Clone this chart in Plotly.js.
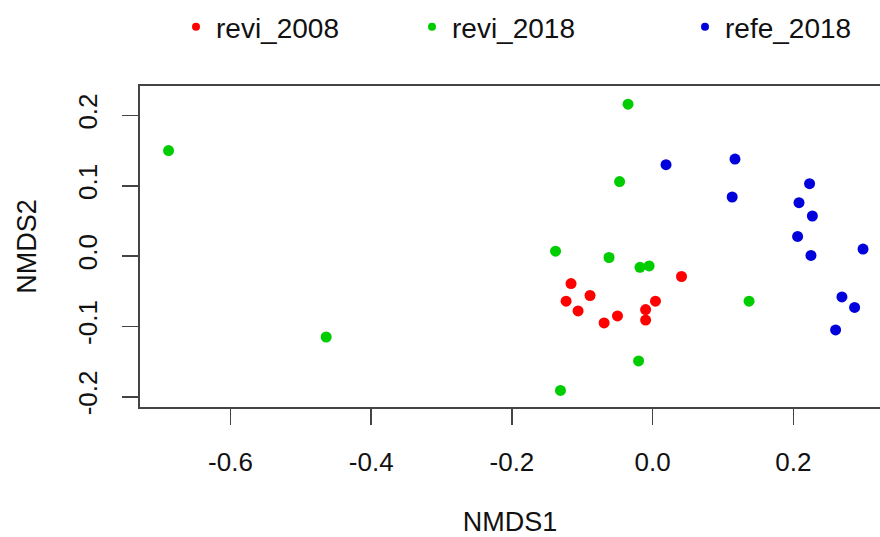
<!DOCTYPE html>
<html>
<head>
<meta charset="utf-8">
<script src="https://cdn.plot.ly/plotly-3.0.1.min.js"></script>
<style>html,body{margin:0;padding:0;background:#fff}#chart{width:880px;height:537px}</style>
</head>
<body>
<div id="chart"></div>
<script>
// NMDS scores
const revi2008_x = [-0.116, -0.089, -0.123, -0.106, -0.069, -0.050, -0.010, -0.010, 0.004, 0.041];
const revi2008_y = [-0.039, -0.056, -0.064, -0.078, -0.095, -0.085, -0.076, -0.091, -0.064, -0.029];

const revi2018_x = [-0.688, -0.464, -0.035, -0.047, -0.138, -0.062, -0.018, -0.005, 0.137, -0.020, -0.131];
const revi2018_y = [0.150, -0.115, 0.216, 0.106, 0.007, -0.002, -0.016, -0.014, -0.064, -0.149, -0.191];

const refe2018_x = [0.019, 0.117, 0.113, 0.223, 0.208, 0.227, 0.206, 0.225, 0.299, 0.269, 0.287, 0.260];
const refe2018_y = [0.130, 0.138, 0.084, 0.103, 0.076, 0.057, 0.028, 0.001, 0.010, -0.058, -0.073, -0.105];

const seriesNames = ["revi_2008", "revi_2018", "refe_2018"];
const seriesColors = ["#ff0000", "#00cd00", "#0000dd"];
const xTicks = [-0.6, -0.4, -0.2, 0.0, 0.2];
const xTickText = ["-0.6", "-0.4", "-0.2", "0.0", "0.2"];
const yTicks = [-0.2, -0.1, 0.0, 0.1, 0.2];
const yTickText = ["-0.2", "-0.1", "0.0", "0.1", "0.2"];

const xs = [revi2008_x, revi2018_x, refe2018_x];
const ys = [revi2008_y, revi2018_y, refe2018_y];
const legendIds = ["legend", "legend2", "legend3"];

const traces = [];
for (let i = 0; i < 3; i++) {
  traces.push({
    type: "scatter", mode: "markers", x: xs[i], y: ys[i], name: seriesNames[i],
    marker: {color: seriesColors[i], size: 11}, showlegend: false, hoverinfo: "x+y+name"
  });
}
for (let i = 0; i < 3; i++) {
  traces.push({
    type: "scatter", mode: "markers", x: [null], y: [null], name: seriesNames[i],
    marker: {color: seriesColors[i], size: 8}, showlegend: true, legend: legendIds[i]
  });
}

const fontFam = "Liberation Sans, Arial, sans-serif";
const legendX = [176, 412, 685];
const lg = (px) => ({
  orientation: "h", xref: "container", yref: "container",
  x: px / 880, xanchor: "left", y: 1 - 2 / 537, yanchor: "top",
  font: {family: fontFam, size: 28, color: "#111"}, bgcolor: "rgba(0,0,0,0)", borderwidth: 0
});

const layout = {
  width: 880, height: 537,
  margin: {l: 140, r: 0, t: 86, b: 130, pad: 0},
  paper_bgcolor: "#fff", plot_bgcolor: "#fff",
  font: {family: fontFam, color: "#111"},
  xaxis: {
    range: [-0.7286, 0.3231], tickvals: xTicks, ticktext: xTickText,
    showgrid: false, zeroline: false, showline: true, linecolor: "#444", linewidth: 2,
    mirror: true, ticks: "outside", ticklen: 16, tickwidth: 1.5, tickcolor: "#444",
    tickfont: {family: fontFam, size: 26, color: "#111"}, ticklabelstandoff: 15,
    title: {text: "NMDS1", font: {family: fontFam, size: 27, color: "#111"}, standoff: 40}
  },
  yaxis: {
    range: [-0.2145, 0.2418], tickvals: yTicks, ticktext: yTickText, tickangle: -90,
    showgrid: false, zeroline: false, showline: true, linecolor: "#444", linewidth: 2,
    mirror: false, ticks: "outside", ticklen: 16, tickwidth: 1.5, tickcolor: "#444",
    tickfont: {family: fontFam, size: 26, color: "#111"}, ticklabelstandoff: 15,
    title: {text: "NMDS2", font: {family: fontFam, size: 27, color: "#111"}, standoff: 28}
  },
  legend: lg(legendX[0]), legend2: lg(legendX[1]), legend3: lg(legendX[2])
};

Plotly.newPlot("chart", traces, layout, {displayModeBar: false, staticPlot: true});
</script>
</body>
</html>
